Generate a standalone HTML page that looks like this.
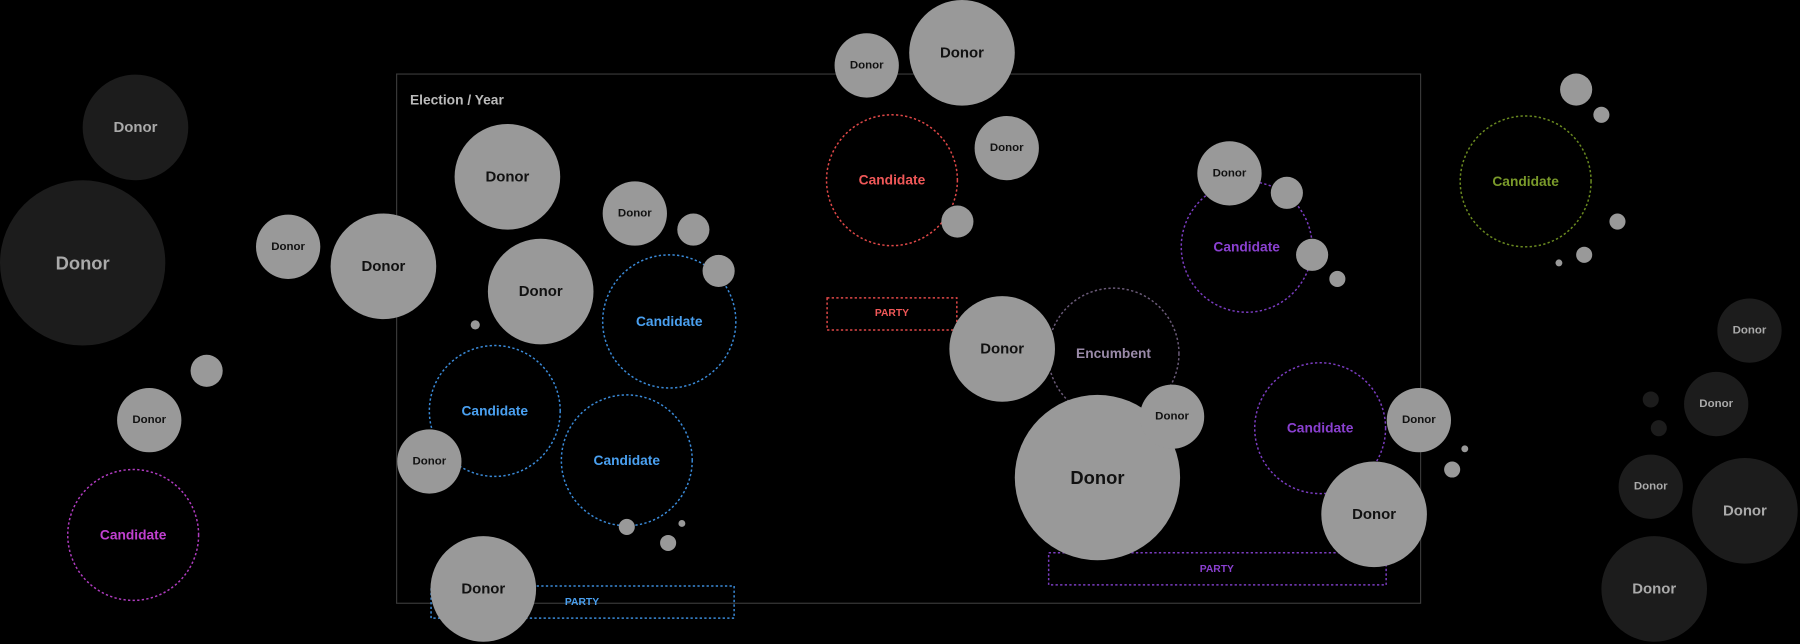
<!DOCTYPE html>
<html><head><meta charset="utf-8"><style>
html,body{margin:0;padding:0;background:#000;}
svg{display:block;}
text{font-family:"Liberation Sans",sans-serif;text-anchor:middle;dominant-baseline:central;}
</style></head><body>
<svg width="1800" height="644" viewBox="0 0 1568 561" xmlns="http://www.w3.org/2000/svg">
<rect width="1568" height="561" fill="#000"/>
<rect x="345.5" y="64.5" width="892" height="461" fill="none" stroke="#3a3a3a" stroke-width="1"/>
<text x="398" y="87" fill="#bbb" font-size="12" font-weight="bold">Election / Year</text>

<g fill="#1c1c1c">
<circle cx="118" cy="111" r="46"/><circle cx="72" cy="229" r="72"/>
<circle cx="1524" cy="288" r="28"/><circle cx="1495" cy="352" r="28"/>
<circle cx="1438" cy="348" r="7"/><circle cx="1445" cy="373" r="7"/>
<circle cx="1438" cy="424" r="28"/><circle cx="1520" cy="445" r="46"/>
<circle cx="1441" cy="513" r="46"/>
</g>
<g fill="#aaa" font-weight="bold">
<text x="118" y="111" font-size="13">Donor</text>
<text x="72" y="229" font-size="16">Donor</text>
<text x="1524" y="288" font-size="10">Donor</text>
<text x="1495" y="352" font-size="10">Donor</text>
<text x="1438" y="424" font-size="10">Donor</text>
<text x="1520" y="445" font-size="13">Donor</text>
<text x="1441" y="513" font-size="13">Donor</text>
</g>

<g fill="none" stroke-width="1.3" stroke-dasharray="2 2">
<circle cx="116" cy="466" r="57" stroke="#b03cc0"/>
<circle cx="583" cy="280" r="58" stroke="#3a8ad8"/>
<circle cx="431" cy="358" r="57" stroke="#3a8ad8"/>
<circle cx="546" cy="401" r="57" stroke="#3a8ad8"/>
<circle cx="777" cy="157" r="57" stroke="#e04848"/>
<circle cx="970" cy="308" r="57" stroke="#6a5a78"/>
<circle cx="1086" cy="215" r="57" stroke="#7a3cc0"/>
<circle cx="1150" cy="373" r="57" stroke="#7a3cc0"/>
<circle cx="1329" cy="158" r="57" stroke="#6a8a20"/>
<rect x="375.5" y="510.5" width="264" height="28" stroke="#3a8ad8"/>
<rect x="720.5" y="259.5" width="113" height="28" stroke="#e04848"/>
<rect x="913.5" y="481.5" width="294" height="28" stroke="#7a3cc0"/>
</g>
<g font-size="12" font-weight="bold">
<text x="116" y="466" fill="#c040d0">Candidate</text>
<text x="583" y="280" fill="#4aa0f0">Candidate</text>
<text x="431" y="358" fill="#4aa0f0">Candidate</text>
<text x="546" y="401" fill="#4aa0f0">Candidate</text>
<text x="777" y="157" fill="#f05858">Candidate</text>
<text x="970" y="308" fill="#9a8aa8">Encumbent</text>
<text x="1086" y="215" fill="#8a40d0">Candidate</text>
<text x="1150" y="373" fill="#8a40d0">Candidate</text>
<text x="1329" y="158" fill="#7a9a2a">Candidate</text>
<text x="507" y="525" fill="#4aa0f0" font-size="9">PARTY</text>
<text x="777" y="273" fill="#f05858" font-size="9">PARTY</text>
<text x="1060" y="496" fill="#8a40d0" font-size="9">PARTY</text>
</g>

<g fill="#999">
<circle cx="180" cy="323" r="14"/><circle cx="130" cy="366" r="28"/>
<circle cx="442" cy="154" r="46"/><circle cx="553" cy="186" r="28"/><circle cx="604" cy="200" r="14"/>
<circle cx="251" cy="215" r="28"/><circle cx="334" cy="232" r="46"/><circle cx="626" cy="236" r="14"/>
<circle cx="471" cy="254" r="46"/><circle cx="414" cy="283" r="4"/>
<circle cx="374" cy="402" r="28"/>
<circle cx="546" cy="459" r="7"/><circle cx="582" cy="473" r="7"/><circle cx="594" cy="456" r="3"/>
<circle cx="421" cy="513" r="46"/>
<circle cx="755" cy="57" r="28"/><circle cx="838" cy="46" r="46"/><circle cx="877" cy="129" r="28"/>
<circle cx="834" cy="193" r="14"/>
<circle cx="873" cy="304" r="46"/><circle cx="956" cy="416" r="72"/><circle cx="1021" cy="363" r="28"/>
<circle cx="1071" cy="151" r="28"/><circle cx="1121" cy="168" r="14"/><circle cx="1143" cy="222" r="14"/><circle cx="1165" cy="243" r="7"/>
<circle cx="1236" cy="366" r="28"/><circle cx="1197" cy="448" r="46"/><circle cx="1276" cy="391" r="3"/><circle cx="1265" cy="409" r="7"/>
<circle cx="1373" cy="78" r="14"/><circle cx="1395" cy="100" r="7"/><circle cx="1409" cy="193" r="7"/><circle cx="1380" cy="222" r="7"/><circle cx="1358" cy="229" r="3"/>
</g>
<g fill="#111" font-weight="bold">
<text x="130" y="366" font-size="10">Donor</text>
<text x="442" y="154" font-size="13">Donor</text>
<text x="553" y="186" font-size="10">Donor</text>
<text x="251" y="215" font-size="10">Donor</text>
<text x="334" y="232" font-size="13">Donor</text>
<text x="471" y="254" font-size="13">Donor</text>
<text x="374" y="402" font-size="10">Donor</text>
<text x="421" y="513" font-size="13">Donor</text>
<text x="755" y="57" font-size="10">Donor</text>
<text x="838" y="46" font-size="13">Donor</text>
<text x="877" y="129" font-size="10">Donor</text>
<text x="873" y="304" font-size="13">Donor</text>
<text x="956" y="416" font-size="16">Donor</text>
<text x="1021" y="363" font-size="10">Donor</text>
<text x="1071" y="151" font-size="10">Donor</text>
<text x="1236" y="366" font-size="10">Donor</text>
<text x="1197" y="448" font-size="13">Donor</text>
</g>
</svg>
</body></html>
